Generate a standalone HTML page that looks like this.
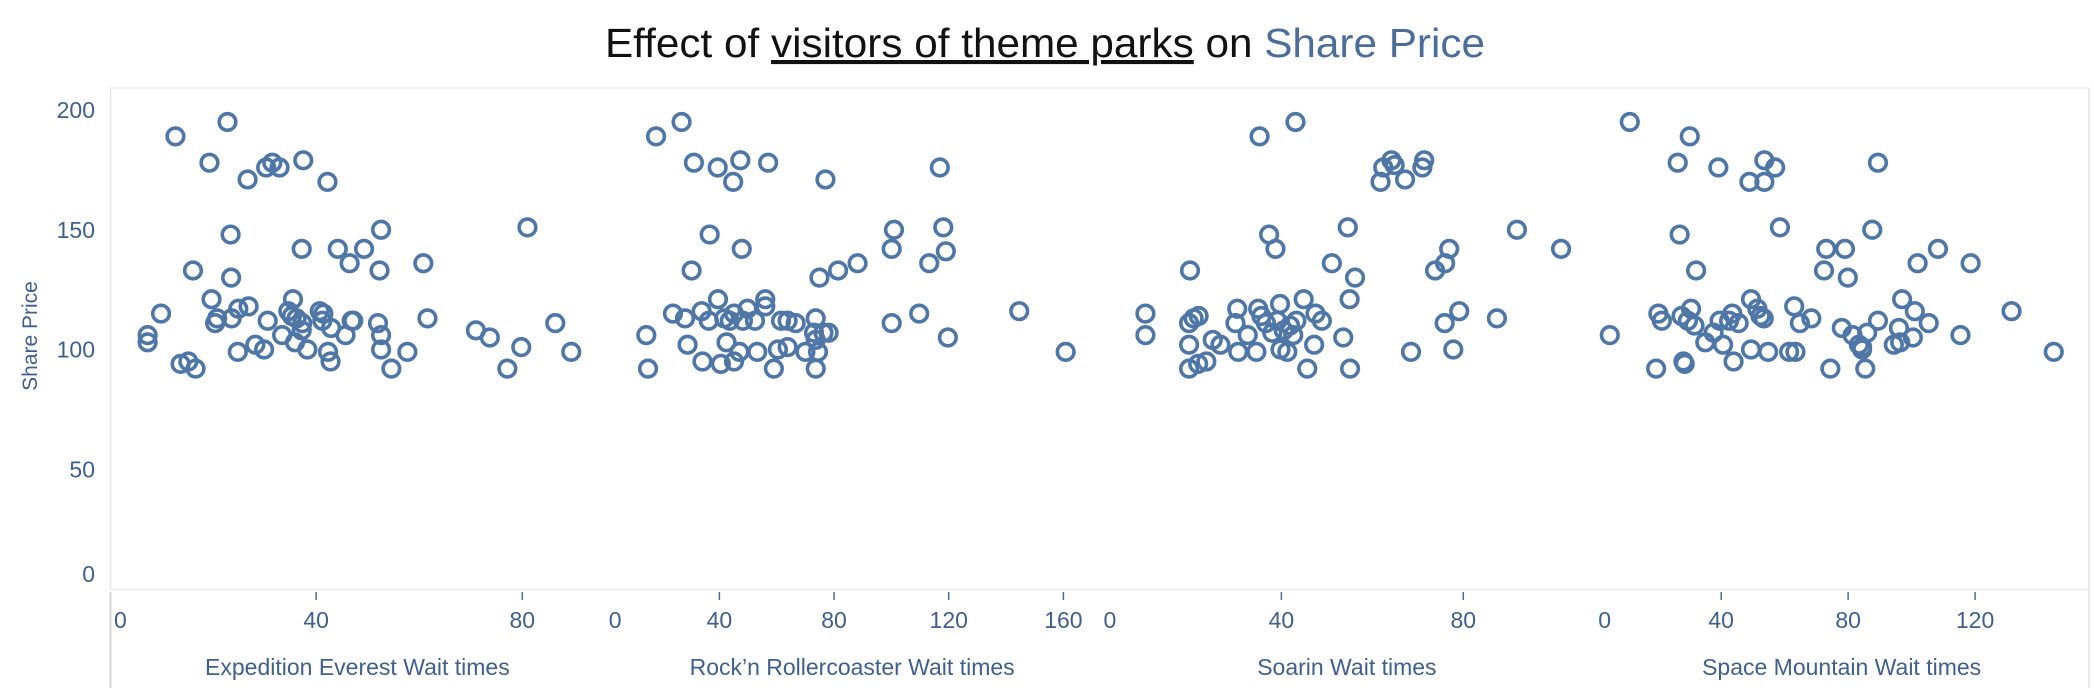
<!DOCTYPE html>
<html><head><meta charset="utf-8">
<style>
html,body{margin:0;padding:0;background:#fff;}
svg{display:block;font-family:"Liberation Sans",sans-serif;}
</style></head>
<body>
<svg id="chart" width="2094" height="688" viewBox="0 0 2094 688" xmlns="http://www.w3.org/2000/svg">
  <text x="605" y="57" font-size="41" textLength="880" lengthAdjust="spacingAndGlyphs" fill="#111">Effect of <tspan text-decoration="underline">visitors of theme parks</tspan> on <tspan fill="#4a6d9c">Share Price</tspan></text>
  <line x1="110" y1="88" x2="2089" y2="88" stroke="#eeeeee" stroke-width="1.5"/>
  <line x1="110" y1="589.5" x2="2089" y2="589.5" stroke="#eeeeee" stroke-width="1.5"/>
  <line x1="110.5" y1="88" x2="110.5" y2="589" stroke="#e3e3e3" stroke-width="1.5"/>
  <line x1="2089" y1="88" x2="2089" y2="688" stroke="#e3e3e3" stroke-width="1.5"/>
  <line x1="110.5" y1="592" x2="110.5" y2="688" stroke="#d6d6d6" stroke-width="2"/>
  <text transform="translate(37,336) rotate(-90)" text-anchor="middle" font-size="21" fill="#3f5f8e">Share Price</text>
  <g id="yticks"></g>
  <g id="xaxes"></g>
  <g id="marks"></g>
</svg>
<script>
const yTicks = [0, 50, 100, 150, 200];
const panelNames = ["Expedition Everest Wait times","Rock\u2019n Rollercoaster Wait times","Soarin Wait times","Space Mountain Wait times"];
const panelTicks = [[0,40,80],[0,40,80,120,160],[0,40,80],[0,40,80,120]];
const panelMax = [96, 172.6, 108.8, 155.9];

const p1x = [12.7,22.8,19.3,26.7,30.3,31.5,32.9,37.5,42.2,23.4,37.2,44.2,46.5,49.3,52.6,52.3,60.8,81,16.1,23.5,19.7,9.9,7.3,7.3,13.7,15.2,16.6,20.4,20.8,23.6,24.9,26.9,24.8,28.2,29.9,30.6,33.4,35.5,34.6,35.3,36.2,37.3,37.2,35.9,38.3,40.7,41.4,41.2,42.9,42.3,42.8,45.7,46.9,47.2,52,52.6,52.6,54.6,57.7,61.6,71,73.7,77.1,79.8,86.4,89.5];
const p1y = [189,195,178,171,176,178,176,179,170,148,142,142,136,142,150,133,136,151,133,130,121,115,106,103,94,95,92,111,113,113,117,118,99,102,100,112,106,121,116,114,113,111,108,103,100,116,115,112,109,99,95,106,112,112,111,106,100,92,99,113,108,105,92,101,111,99];

const p2x = [17.9,26.8,31.1,39.4,47.3,44.8,57,77,116.9,36.6,47.8,30.3,100.9,100.1,118.1,119,113.2,88.2,81.4,74.9,14.5,15.1,23.8,28,28.9,33.8,34.1,36.3,39.5,40.5,41.7,43.6,45.1,42.5,45.1,47,48.2,49.8,53.2,52.4,56,56,59,60.4,61.5,63.8,63.8,66.6,70,73,73.6,73.6,73.6,74.4,78.1,76.3,100.1,109.7,119.7,144.6,160.8];
const p2y = [189,195,178,176,179,170,178,171,176,148,142,133,150,142,151,141,136,136,133,130,106,92,115,113,102,116,95,112,121,94,113,112,115,103,95,99,112,117,99,112,121,118,92,100,112,112,101,111,99,107,113,92,104,99,107,107,111,115,105,116,99];

const p3x = [35.2,43.1,61.8,62.4,64.2,64.9,67.2,71,71.4,37.3,38.7,54.6,51.1,56.2,55,19.9,73.8,76,76.9,79.1,75.9,77.8,91.8,101.5,87.4,68.5,10.1,10.1,19.7,20.7,21.8,19.7,19.7,21.7,23.5,24.9,26.6,30.5,29.9,30.3,32.6,34.5,34.9,35.6,36.6,38,39.7,39.1,40.5,41.3,41.9,43.3,42.6,44.9,45.7,47.5,48.9,47.2,53.6,55.1,39.8];
const p3y = [189,195,170,176,179,177,171,176,179,148,142,151,136,130,121,133,133,136,142,116,111,100,150,142,113,99,115,106,111,113,114,102,92,94,95,104,102,99,111,117,106,99,117,114,111,107,119,112,108,99,110,112,106,121,92,115,112,102,105,92,100];

const p4x = [11.2,30.1,26.3,39.1,53.6,57,48.9,53.6,89.4,26.9,58.5,87.6,32.1,73.1,79,72.4,79.9,101.9,108.3,118.6,4.9,131.5,144.8,19.5,28.1,28.5,20.2,21.3,27.5,30.5,29.5,31.6,35,37.6,40.6,43.9,39.5,43.5,42.5,45.5,49.4,51.4,52.4,53.4,49.4,54.8,61.4,63.4,63,64.8,68.4,74.4,78,81.4,83.4,84.4,85.4,86,89.4,84.4,94.4,96.4,97,96,100.4,101,105.4,115.4];
const p4y = [195,189,178,176,179,176,170,170,178,148,151,150,133,142,142,133,130,136,142,136,106,116,99,92,95,94,115,112,114,117,112,110,103,107,102,95,112,115,112,111,121,117,114,113,100,99,99,99,118,111,113,92,109,106,102,100,92,107,112,101,102,103,121,109,105,116,111,106];

const panelX = [p1x, p2x, p3x, p4x];
const panelY = [p1y, p2y, p3y, p4y];

const NS = "http://www.w3.org/2000/svg";
const plotLeft = 110, plotRight = 2089, plotBottom = 589, yPxPerUnit = 2.395;
const panelW = (plotRight - plotLeft) / 4;
function yScale(v){ return plotBottom - v * yPxPerUnit; }
function xScale(p, v){ return plotLeft + p * panelW + v / panelMax[p] * panelW; }

const yG = document.getElementById('yticks');
yTicks.forEach(function(t){
  const tx = document.createElementNS(NS, 'text');
  
  
  tx.setAttribute('x', 95);
  tx.setAttribute('y', (t === 0 ? yScale(t) - 15 : yScale(t)) + 8);
  tx.setAttribute('text-anchor', 'end');
  tx.setAttribute('font-size', '23');
  tx.setAttribute('fill', '#3f5f8e');
  tx.textContent = t;
  yG.appendChild(tx);
});

const xG = document.getElementById('xaxes');
const mG = document.getElementById('marks');
for (let p = 0; p < 4; p++) {
  panelTicks[p].forEach(function(t){
    const x = xScale(p, t);
    const tx = document.createElementNS(NS, 'text');
    
    
    tx.setAttribute('x', t === 0 ? x + 4 : x);
    tx.setAttribute('y', 628);
    tx.setAttribute('text-anchor', t === 0 ? 'start' : 'middle');
    tx.setAttribute('font-size', '23');
    tx.setAttribute('fill', '#3f5f8e');
    tx.textContent = t;
    xG.appendChild(tx);
    if (t !== 0) {
      const tk = document.createElementNS(NS, 'line');
      
      
      tk.setAttribute('x1', x); tk.setAttribute('x2', x);
      tk.setAttribute('y1', 592); tk.setAttribute('y2', 600);
      tk.setAttribute('stroke', '#4a6d9c');
      tk.setAttribute('stroke-width', '1.5');
      xG.appendChild(tk);
    }
  });
  const title = document.createElementNS(NS, 'text');
  
  
  title.setAttribute('x', plotLeft + p * panelW + panelW / 2);
  title.setAttribute('y', 675);
  title.setAttribute('text-anchor', 'middle');
  title.setAttribute('font-size', '23');
  title.setAttribute('fill', '#3f5f8e');
  title.textContent = panelNames[p];
  xG.appendChild(title);

  const xs = panelX[p], ys = panelY[p];
  for (let i = 0; i < xs.length; i++) {
    const c = document.createElementNS(NS, 'circle');
    
    
    c.setAttribute('cx', xScale(p, xs[i]));
    c.setAttribute('cy', yScale(ys[i]));
    c.setAttribute('r', '8.3');
    c.setAttribute('fill', 'none');
    c.setAttribute('stroke', '#4e76a6');
    c.setAttribute('stroke-width', '3.6');
    mG.appendChild(c);
  }
}
</script>
</body></html>
